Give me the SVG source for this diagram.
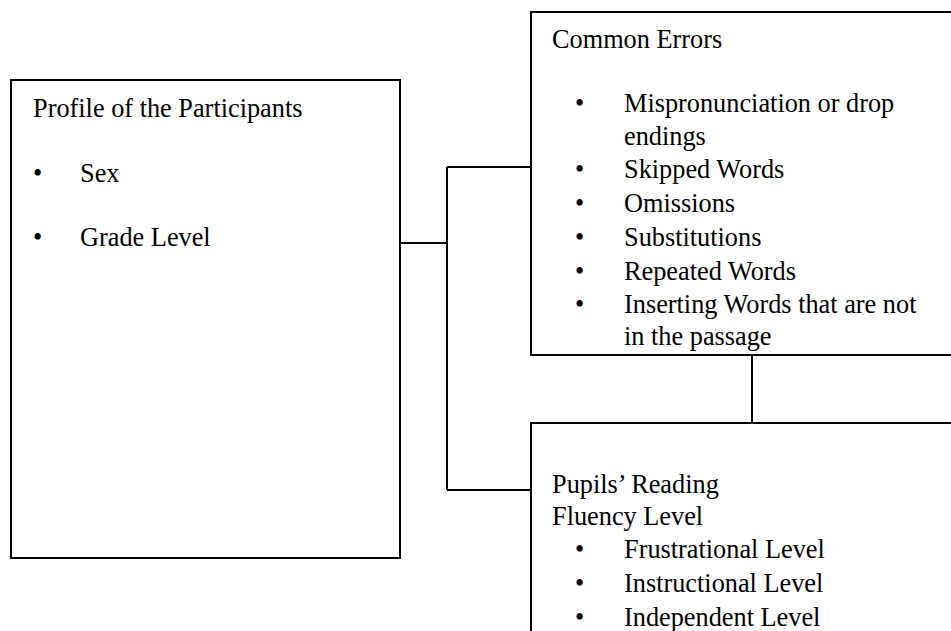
<svg xmlns="http://www.w3.org/2000/svg" width="951" height="631" viewBox="0 0 951 631">
<style>
.box{fill:#fff;stroke:#000;stroke-width:2}
.ln{fill:none;stroke:#000;stroke-width:2}
text{font-family:"Liberation Serif","Times New Roman",serif;font-size:26.3px;fill:#000}
</style>
<rect x="0" y="0" width="951" height="631" fill="#fff"/>
<g id="connectors">
<path class="ln" d="M400,243 H447 M447,167 V490 M447,167 H531 M447,490 H531 M752,355 V423"/>
</g>
<g id="profile">
<rect class="box" x="11" y="80" width="389" height="478"/>
<text x="33" y="117">Profile of the Participants</text>
<text x="33" y="182">•</text><text x="80" y="182">Sex</text>
<text x="33" y="246">•</text><text x="80" y="246">Grade Level</text>
</g>
<g id="errors">
<rect class="box" x="531" y="12" width="440" height="343"/>
<text x="552" y="48">Common Errors</text>
<text x="575" y="112">•</text><text x="624" y="112">Mispronunciation or drop</text>
<text x="624" y="145">endings</text>
<text x="575" y="178">•</text><text x="624" y="178">Skipped Words</text>
<text x="575" y="212">•</text><text x="624" y="212">Omissions</text>
<text x="575" y="246">•</text><text x="624" y="246">Substitutions</text>
<text x="575" y="280">•</text><text x="624" y="280">Repeated Words</text>
<text x="575" y="313">•</text><text x="624" y="313">Inserting Words that are not</text>
<text x="624" y="345">in the passage</text>
</g>
<g id="fluency">
<rect class="box" x="531" y="423" width="440" height="240"/>
<text x="552" y="493">Pupils’ Reading</text>
<text x="552" y="525">Fluency Level</text>
<text x="575" y="558">•</text><text x="624" y="558">Frustrational Level</text>
<text x="575" y="592">•</text><text x="624" y="592">Instructional Level</text>
<text x="575" y="626">•</text><text x="624" y="626">Independent Level</text>
</g>
</svg>
